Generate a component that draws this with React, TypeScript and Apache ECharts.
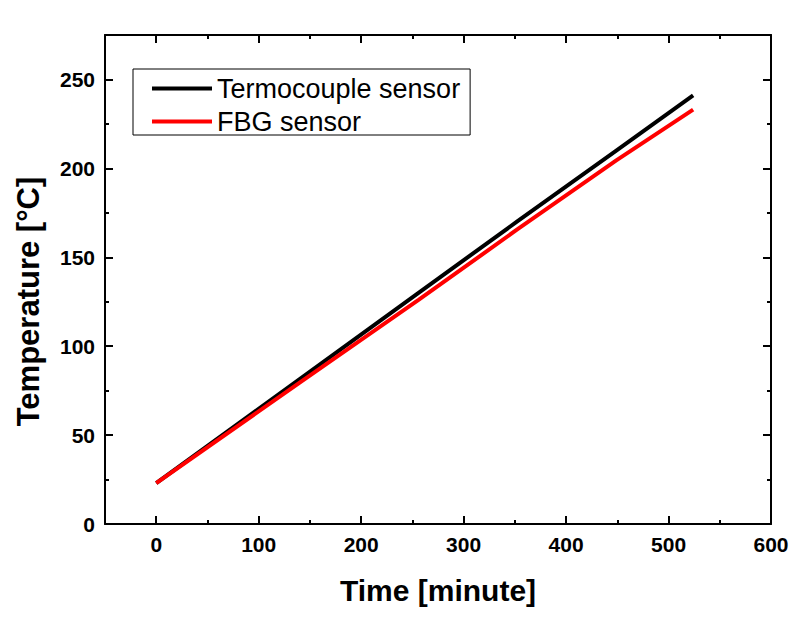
import React, { useEffect, useRef } from "react";
import * as echarts from "echarts";

const timeTC = [0, 140, 256, 352, 449, 524];
const tempTC = [23, 81.5, 130, 170, 210, 241];
const timeFBG = [0, 140, 256, 352, 449, 524];
const tempFBG = [23, 79.5, 126, 165.5, 204.5, 233];
const xMajor = [0, 100, 200, 300, 400, 500, 600];
const xMinor = [50, 150, 250, 350, 450, 550];
const yLabels = [0, 50, 100, 150, 200, 250];
const seriesNames = ["Termocouple sensor", "FBG sensor"];

const FONT = "Arial, 'Liberation Sans', sans-serif";

export default function App() {
  const ref = useRef<HTMLDivElement>(null);
  useEffect(() => {
    const chart = echarts.init(ref.current!, null, { renderer: "svg" });
    const axisLine = { show: true, onZero: false, lineStyle: { color: "#000", width: 2 } };
    const xBase = { type: "value", min: -50, max: 600, interval: 50, splitLine: { show: false } };
    const yBase = { type: "value", min: 0, max: 275, interval: 50, splitLine: { show: false } };
    chart.setOption({
      animation: false,
      backgroundColor: "#fff",
      grid: { left: 105, right: 32, top: 35, bottom: 99, containLabel: false },
      legend: {
        left: 133,
        top: 69,
        orient: "vertical",
        data: seriesNames,
        icon: "rect",
        borderColor: "#000",
        borderWidth: 1,
        borderRadius: 0,
        padding: [6, 10, 0, 19],
        itemWidth: 60,
        itemHeight: 4,
        itemGap: 6,
        textStyle: { fontFamily: FONT, fontSize: 27, color: "#000", lineHeight: 22 },
      },
      xAxis: [
        {
          ...xBase,
          position: "bottom",
          name: "Time [minute]",
          nameLocation: "middle",
          nameGap: 51,
          nameTextStyle: { fontFamily: FONT, fontSize: 30, fontWeight: "bold", color: "#000" },
          axisLine,
          axisTick: { show: true, inside: true, length: 8, customValues: xMajor, lineStyle: { color: "#000", width: 2 } },
          axisLabel: { customValues: xMajor, fontFamily: FONT, fontSize: 21, fontWeight: "bold", color: "#000", margin: 10 },
        },
        {
          ...xBase,
          position: "bottom",
          axisLine: { show: false, onZero: false },
          axisTick: { show: true, inside: true, length: 4, customValues: xMinor, lineStyle: { color: "#000", width: 2 } },
          axisLabel: { show: false },
        },
        {
          ...xBase,
          position: "top",
          axisLine,
          axisTick: { show: true, inside: true, length: 8, customValues: xMajor, lineStyle: { color: "#000", width: 2 } },
          axisLabel: { show: false },
        },
        {
          ...xBase,
          position: "top",
          axisLine: { show: false, onZero: false },
          axisTick: { show: true, inside: true, length: 4, customValues: xMinor, lineStyle: { color: "#000", width: 2 } },
          axisLabel: { show: false },
        },
      ],
      yAxis: [
        {
          ...yBase,
          position: "left",
          name: "Temperature [°C]",
          nameLocation: "middle",
          nameGap: 61,
          nameTextStyle: { fontFamily: FONT, fontSize: 31, fontWeight: "bold", color: "#000", padding: [0, 44, 0, 0] },
          axisLine,
          axisTick: { show: true, inside: true, length: 8, lineStyle: { color: "#000", width: 2 } },
          minorTick: { show: true, splitNumber: 2, length: 4, lineStyle: { color: "#000", width: 2 } },
          axisLabel: {
            fontFamily: FONT,
            fontSize: 21,
            fontWeight: "bold",
            color: "#000",
            margin: 10,
            formatter: (v: number) => (yLabels.indexOf(v) >= 0 ? String(v) : ""),
          },
        },
        {
          ...yBase,
          position: "right",
          axisLine,
          axisTick: { show: true, inside: true, length: 8, lineStyle: { color: "#000", width: 2 } },
          minorTick: { show: true, splitNumber: 2, length: 4, lineStyle: { color: "#000", width: 2 } },
          axisLabel: { show: false },
        },
      ],
      series: [
        {
          name: seriesNames[0],
          type: "line",
          xAxisIndex: 0,
          yAxisIndex: 0,
          symbol: "none",
          data: timeTC.map((t, i) => [t, tempTC[i]]),
          lineStyle: { color: "#000", width: 4 },
          itemStyle: { color: "#000" },
        },
        {
          name: seriesNames[1],
          type: "line",
          xAxisIndex: 0,
          yAxisIndex: 0,
          symbol: "none",
          data: timeFBG.map((t, i) => [t, tempFBG[i]]),
          lineStyle: { color: "#ff0000", width: 4 },
          itemStyle: { color: "#ff0000" },
        },
      ],
    });
    return () => chart.dispose();
  }, []);
  return <div ref={ref} style={{ width: 803, height: 623, position: "absolute", left: 0, top: 0 }} />;
}
